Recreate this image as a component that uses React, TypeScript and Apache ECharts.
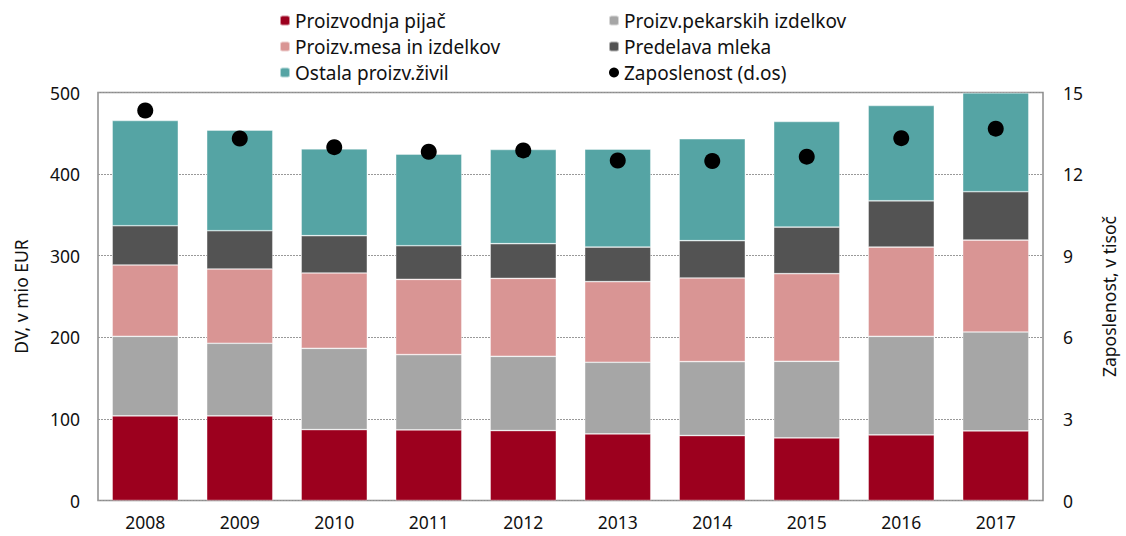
import React, { useEffect, useRef } from "react";
import * as echarts from "echarts";

const years = ["2008", "2009", "2010", "2011", "2012", "2013", "2014", "2015", "2016", "2017"];
const pijac = [103.7, 103.7, 86.9, 86.5, 85.7, 81.6, 79.6, 76.7, 80.4, 85.3];
const pekarski = [97.5, 89.0, 99.6, 92.3, 91.0, 87.8, 90.6, 93.9, 120.8, 121.2];
const meso = [87.4, 91.0, 92.3, 92.2, 95.5, 98.8, 102.5, 107.4, 109.4, 112.7];
const mleko = [48.1, 46.9, 45.7, 41.2, 42.5, 42.4, 45.7, 57.1, 56.7, 59.2];
const ostalo = [129.0, 123.3, 106.5, 112.3, 115.5, 120.0, 124.9, 129.4, 116.8, 121.2];
const zaposlenost = [14.34, 13.31, 12.99, 12.82, 12.87, 12.5, 12.48, 12.64, 13.32, 13.67];
const leftTicks = [0, 500, 100];
const rightTicks = [0, 15, 3];

const FONT = "Noto Sans";
const AX = 17.5;
const LG = 19;

export default function App() {
  const ref = useRef<HTMLDivElement>(null);
  useEffect(() => {
    document.body.style.margin = "0";
    const chart = echarts.init(ref.current!, null, { renderer: "svg" });
    const bar = (name: string, data: number[], color: string) => ({
      name,
      type: "bar",
      stack: "dv",
      data,
      barWidth: "70%",
      itemStyle: {
        color,
        borderColor: "rgba(255,255,255,0.55)",
        borderWidth: 0.7,
      },
    });
    const legendText = {
      fontFamily: FONT,
      fontSize: LG,
      lineHeight: 19,
      color: "#111",
      padding: [0, 0, 0, 0],
    };
    chart.setOption({
      animation: false,
      textStyle: { fontFamily: FONT, color: "#111" },
      grid: {
        left: 98,
        right: 71,
        top: 92.5,
        bottom: 35.5,
        show: true,
        borderColor: "#8c8c8c",
        borderWidth: 1.5,
        backgroundColor: "transparent",
      },
      legend: [
        {
          orient: "vertical",
          left: 274,
          top: 6,
          itemWidth: 10,
          itemHeight: 10,
          itemGap: 7,
          textStyle: legendText,
          data: ["Proizvodnja pijač", "Proizv.mesa in izdelkov", "Ostala proizv.živil"],
        },
        {
          orient: "vertical",
          left: 603,
          top: 6,
          itemWidth: 10,
          itemHeight: 10,
          itemGap: 7,
          textStyle: legendText,
          data: [
            "Proizv.pekarskih izdelkov",
            "Predelava mleka",
            { name: "Zaposlenost (d.os)", icon: "circle" },
          ],
        },
      ],
      xAxis: {
        type: "category",
        data: years,
        axisLine: { show: false },
        axisTick: { show: false },
        axisLabel: { fontFamily: FONT, fontSize: AX, color: "#111", margin: 12 },
      },
      yAxis: [
        {
          type: "value",
          min: leftTicks[0],
          max: leftTicks[1],
          interval: leftTicks[2],
          name: "DV, v mio EUR",
          nameLocation: "middle",
          nameGap: 68,
          nameTextStyle: { fontFamily: FONT, fontSize: AX, color: "#111" },
          axisLine: { show: false },
          axisTick: { show: false },
          axisLabel: { fontFamily: FONT, fontSize: AX, color: "#111", margin: 18 },
          splitLine: { lineStyle: { color: "#999", type: [2, 1], width: 1 } },
        },
        {
          type: "value",
          min: rightTicks[0],
          max: rightTicks[1],
          interval: rightTicks[2],
          position: "right",
          name: "Zaposlenost, v tisoč",
          nameLocation: "middle",
          nameGap: 57,
          nameRotate: 90,
          nameTextStyle: { fontFamily: FONT, fontSize: AX, color: "#111" },
          axisLine: { show: false },
          axisTick: { show: false },
          axisLabel: { fontFamily: FONT, fontSize: AX, color: "#111", margin: 20 },
          splitLine: { show: false },
        },
      ],
      series: [
        bar("Proizvodnja pijač", pijac, "#9c001e"),
        bar("Proizv.pekarskih izdelkov", pekarski, "#a6a6a6"),
        bar("Proizv.mesa in izdelkov", meso, "#d99594"),
        bar("Predelava mleka", mleko, "#535353"),
        bar("Ostala proizv.živil", ostalo, "#55a4a4"),
        {
          name: "Zaposlenost (d.os)",
          type: "scatter",
          yAxisIndex: 1,
          data: zaposlenost,
          symbolSize: 16,
          itemStyle: { color: "#000", opacity: 1 },
          z: 5,
        },
      ],
    });
    return () => chart.dispose();
  }, []);
  return <div ref={ref} style={{ width: 1126, height: 536 }} />;
}
